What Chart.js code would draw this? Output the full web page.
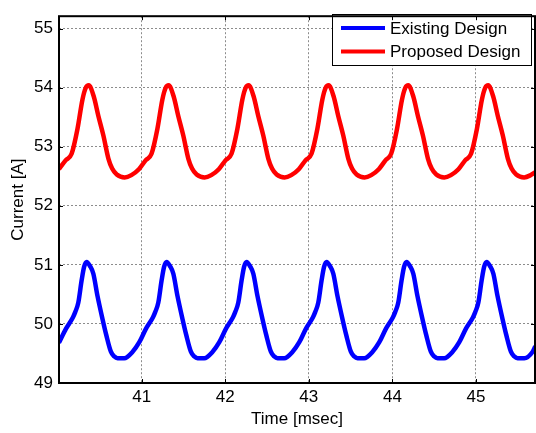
<!DOCTYPE html>
<html>
<head>
<meta charset="utf-8">
<script src="https://cdn.jsdelivr.net/npm/chart.js@4/dist/chart.umd.min.js"></script>
<style>
  body { margin: 0; background: #fff; }
  #chart { display: block; }
</style>
</head>
<body>
<canvas id="chart" width="536" height="433"></canvas>
<script>
// DATA
const seriesNames = ["Existing Design", "Proposed Design"];

const existingTime = [
  40.01, 40.095, 40.177, 40.205, 40.242, 40.282, 40.312, 40.342, 40.382, 40.422, 40.472, 40.532, 40.577, 40.632, 40.672, 40.712, 40.792, 40.892, 40.972, 41.052,
  41.134, 41.162, 41.199, 41.239, 41.269, 41.299, 41.339, 41.379, 41.429, 41.489, 41.534, 41.589, 41.629, 41.669, 41.749, 41.849, 41.929, 42.009,
  42.091, 42.119, 42.156, 42.196, 42.226, 42.256, 42.296, 42.336, 42.386, 42.446, 42.491, 42.546, 42.586, 42.626, 42.706, 42.806, 42.886, 42.966,
  43.048, 43.076, 43.113, 43.153, 43.183, 43.213, 43.253, 43.293, 43.343, 43.403, 43.448, 43.503, 43.543, 43.583, 43.663, 43.763, 43.843, 43.923,
  44.005, 44.033, 44.07, 44.11, 44.14, 44.17, 44.21, 44.25, 44.3, 44.36, 44.405, 44.46, 44.5, 44.54, 44.62, 44.72, 44.8, 44.88,
  44.963, 44.991, 45.028, 45.068, 45.098, 45.128, 45.168, 45.208, 45.258, 45.318, 45.363, 45.418, 45.458, 45.498, 45.578, 45.678, 45.71
];
const existingCurrent = [
  49.68, 49.92, 50.11, 50.2, 50.36, 50.74, 50.97, 51.05, 50.98, 50.85, 50.47, 50.08, 49.81, 49.53, 49.45, 49.42, 49.42, 49.53, 49.69, 49.92,
  50.11, 50.2, 50.36, 50.74, 50.97, 51.05, 50.98, 50.85, 50.47, 50.08, 49.81, 49.53, 49.45, 49.42, 49.42, 49.53, 49.69, 49.92,
  50.11, 50.2, 50.36, 50.74, 50.97, 51.05, 50.98, 50.85, 50.47, 50.08, 49.81, 49.53, 49.45, 49.42, 49.42, 49.53, 49.69, 49.92,
  50.11, 50.2, 50.36, 50.74, 50.97, 51.05, 50.98, 50.85, 50.47, 50.08, 49.81, 49.53, 49.45, 49.42, 49.42, 49.53, 49.69, 49.92,
  50.11, 50.2, 50.36, 50.74, 50.97, 51.05, 50.98, 50.85, 50.47, 50.08, 49.81, 49.53, 49.45, 49.42, 49.42, 49.53, 49.69, 49.92,
  50.11, 50.2, 50.36, 50.74, 50.97, 51.05, 50.98, 50.85, 50.47, 50.08, 49.81, 49.53, 49.45, 49.42, 49.42, 49.53, 49.62
];

const proposedTime = [
  40.01, 40.09, 40.162, 40.232, 40.292, 40.332, 40.367, 40.427, 40.482, 40.542, 40.602, 40.647, 40.702, 40.797, 40.877, 40.967, 41.047,
  41.118, 41.188, 41.248, 41.288, 41.323, 41.383, 41.438, 41.498, 41.558, 41.603, 41.658, 41.753, 41.833, 41.923, 42.003,
  42.075, 42.145, 42.205, 42.245, 42.28, 42.34, 42.395, 42.455, 42.515, 42.56, 42.615, 42.71, 42.79, 42.88, 42.96,
  43.032, 43.102, 43.162, 43.202, 43.237, 43.297, 43.352, 43.412, 43.472, 43.517, 43.572, 43.667, 43.747, 43.837, 43.917,
  43.985, 44.055, 44.115, 44.155, 44.19, 44.25, 44.305, 44.365, 44.425, 44.47, 44.525, 44.62, 44.7, 44.79, 44.87,
  44.941, 45.011, 45.071, 45.111, 45.146, 45.206, 45.261, 45.321, 45.381, 45.426, 45.481, 45.576, 45.656, 45.71
];
const proposedCurrent = [
  52.62, 52.77, 52.88, 53.3, 53.8, 54.0, 54.04, 53.85, 53.52, 53.19, 52.8, 52.63, 52.53, 52.48, 52.52, 52.62, 52.77,
  52.88, 53.3, 53.8, 54.0, 54.04, 53.85, 53.52, 53.19, 52.8, 52.63, 52.53, 52.48, 52.52, 52.62, 52.77,
  52.88, 53.3, 53.8, 54.0, 54.04, 53.85, 53.52, 53.19, 52.8, 52.63, 52.53, 52.48, 52.52, 52.62, 52.77,
  52.88, 53.3, 53.8, 54.0, 54.04, 53.85, 53.52, 53.19, 52.8, 52.63, 52.53, 52.48, 52.52, 52.62, 52.77,
  52.88, 53.3, 53.8, 54.0, 54.04, 53.85, 53.52, 53.19, 52.8, 52.63, 52.53, 52.48, 52.52, 52.62, 52.77,
  52.88, 53.3, 53.8, 54.0, 54.04, 53.85, 53.52, 53.19, 52.8, 52.63, 52.53, 52.48, 52.52, 52.57
];

const xTicks = [41, 42, 43, 44, 45];
const yTicks = [49, 50, 51, 52, 53, 54, 55];

const FONT = "'Liberation Sans', Arial, sans-serif";

function toPoints(xs, ys) {
  return xs.map((x, i) => ({ x: x, y: ys[i] }));
}

// FRAME + INWARD TICKS (matlab style box)
const framePlugin = {
  id: "frame",
  afterDraw(chart) {
    const { ctx, chartArea: a, scales } = chart;
    ctx.save();
    ctx.strokeStyle = "#000";
    ctx.lineWidth = 1;
    ctx.beginPath();
    scales.x.ticks.forEach((t) => {
      const px = Math.round(scales.x.getPixelForValue(t.value)) + 0.5;
      ctx.moveTo(px, a.bottom); ctx.lineTo(px, a.bottom - 4);
      ctx.moveTo(px, a.top); ctx.lineTo(px, a.top + 4);
    });
    scales.y.ticks.forEach((t) => {
      const py = Math.round(scales.y.getPixelForValue(t.value)) + 0.5;
      ctx.moveTo(a.left, py); ctx.lineTo(a.left + 4, py);
      ctx.moveTo(a.right, py); ctx.lineTo(a.right - 4, py);
    });
    ctx.stroke();
    ctx.lineWidth = 2;
    ctx.strokeRect(a.left, a.top, a.right - a.left, a.bottom - a.top);
    ctx.restore();
  }
};

// LEGEND BOX inside the plot
const legendPlugin = {
  id: "boxLegend",
  afterDatasetsDraw(chart) {
    const ctx = chart.ctx;
    const bx = 332, by = 14, bw = 199, bh = 51;
    ctx.save();
    ctx.fillStyle = "#fff";
    ctx.fillRect(bx, by, bw, bh);
    ctx.strokeStyle = "#000";
    ctx.lineWidth = 1;
    ctx.strokeRect(bx + 0.5, by + 0.5, bw, bh);
    ctx.font = "17px " + FONT;
    ctx.textBaseline = "middle";
    chart.data.datasets.forEach((ds, i) => {
      const y = by + 14 + i * 23.5;
      ctx.strokeStyle = ds.borderColor;
      ctx.lineWidth = 4;
      ctx.beginPath();
      ctx.moveTo(bx + 9, y);
      ctx.lineTo(bx + 53, y);
      ctx.stroke();
      ctx.fillStyle = "#000";
      ctx.fillText(ds.label, bx + 58, y + 1);
    });
    ctx.restore();
  }
};

const ctx = document.getElementById("chart").getContext("2d");

const chart = new Chart(ctx, {
  type: "line",
  data: {
    datasets: [
      {
        label: seriesNames[0],
        data: toPoints(existingTime, existingCurrent),
        borderColor: "#0000ff",
        borderWidth: 4.5,
        pointRadius: 0,
        cubicInterpolationMode: "monotone",
        clip: 0
      },
      {
        label: seriesNames[1],
        data: toPoints(proposedTime, proposedCurrent),
        borderColor: "#ff0000",
        borderWidth: 4.5,
        pointRadius: 0,
        cubicInterpolationMode: "monotone",
        clip: 0
      }
    ]
  },
  options: {
    responsive: false,
    animation: false,
    events: [],
    layout: { padding: { top: 6, right: 1, left: 0, bottom: 0 } },
    plugins: {
      legend: { display: false },
      tooltip: { enabled: false }
    },
    scales: {
      x: {
        type: "linear",
        min: 40.011,
        max: 45.706,
        afterBuildTicks: (s) => { s.ticks = xTicks.map((v) => ({ value: v })); },
        afterFit: (s) => { s.height = 50; },
        grid: { color: "#8c8c8c", lineWidth: 1, drawTicks: false },
        border: { display: false, dash: [2, 2] },
        ticks: { color: "#000", padding: 4, font: { family: FONT, size: 17 } },
        title: {
          display: true,
          text: "Time [msec]",
          color: "#000",
          font: { family: FONT, size: 17 },
          padding: { top: 0, bottom: 3 }
        }
      },
      y: {
        type: "linear",
        min: 49,
        max: 55.21,
        afterBuildTicks: (s) => { s.ticks = yTicks.map((v) => ({ value: v })); },
        afterFit: (s) => { s.width = 59; },
        grid: { color: "#8c8c8c", lineWidth: 1, drawTicks: false },
        border: { display: false, dash: [2, 2] },
        ticks: { color: "#000", padding: 6, font: { family: FONT, size: 17 } },
        title: {
          display: true,
          text: "Current [A]",
          color: "#000",
          font: { family: FONT, size: 17 },
          padding: { top: 8, bottom: 0 }
        }
      }
    }
  },
  plugins: [framePlugin, legendPlugin]
});
</script>
</body>
</html>
